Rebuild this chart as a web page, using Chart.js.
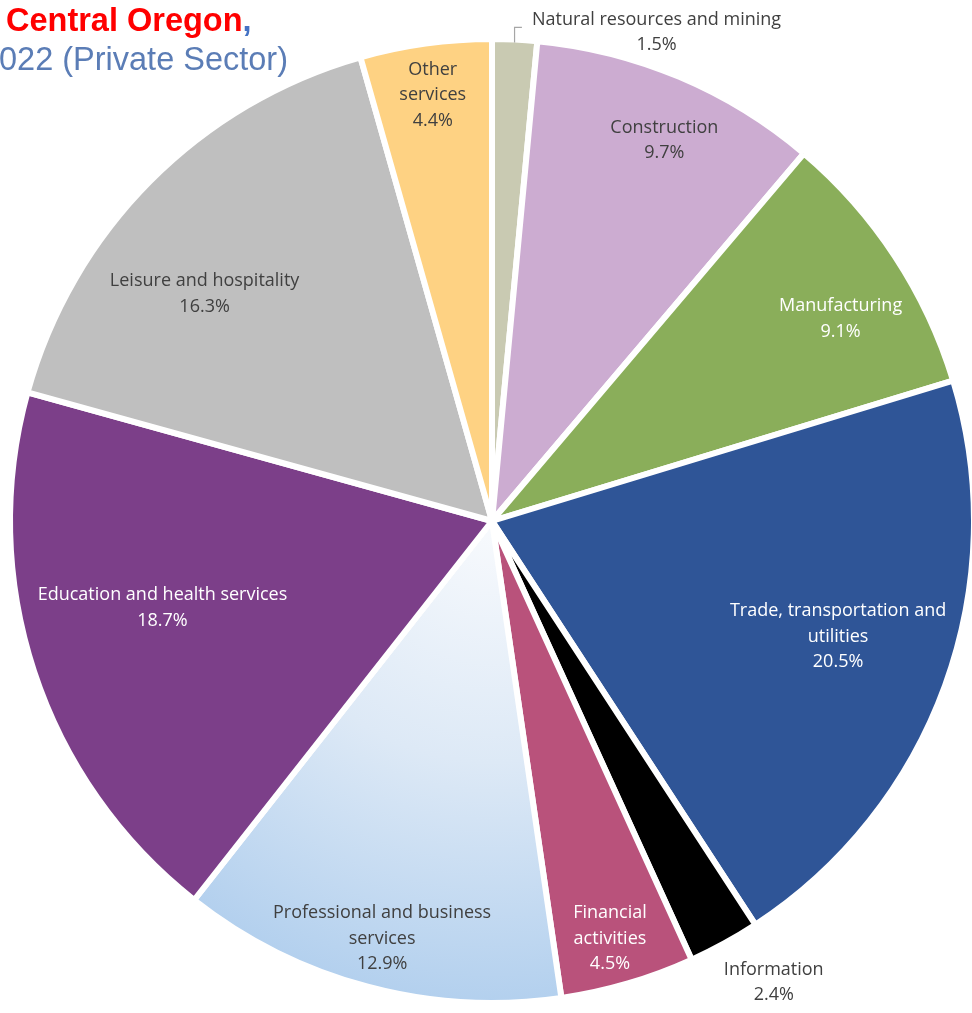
<!DOCTYPE html>
<html>
<head>
<meta charset="utf-8">
<script src="https://cdn.jsdelivr.net/npm/chart.js@4.4.1/dist/chart.umd.min.js"></script>
<style>
  body { margin: 0; background: #fff; }
  #wrap { position: absolute; left: 0; top: 0; width: 972px; height: 1013px; overflow: hidden; }
  .title { position: absolute; font-family: "Liberation Sans", Arial, sans-serif; font-size: 32.5px; white-space: nowrap; z-index: 2; }
  #t1 { left: 6px; top: 2px; color: #ff0000; font-weight: bold; }
  #t1 span { color: #4472c4; }
  #t2 { left: -1px; top: 41px; color: #5b7db6; }
</style>
</head>
<body>
<div id="wrap">
  <div id="t1" class="title">Central Oregon<span>,</span></div>
  <div id="t2" class="title">022 (Private Sector)</div>
  <canvas id="pie"></canvas>
</div>
<script>
const categories = [
  ['Natural resources and mining'],
  ['Construction'],
  ['Manufacturing'],
  ['Trade, transportation and', 'utilities'],
  ['Information'],
  ['Financial', 'activities'],
  ['Professional and business', 'services'],
  ['Education and health services'],
  ['Leisure and hospitality'],
  ['Other', 'services']
];
const shares = [1.5, 9.7, 9.1, 20.5, 2.4, 4.5, 12.9, 18.7, 16.3, 4.4];

const sliceColors = ['#c9cab2', '#ccacd1', '#8aae5a', '#2f5597', '#000000',
                     '#b9527b', 'gradient', '#7c3f89', '#bfbfbf', '#fed283'];
const labelColors = ['#404040', '#404040', '#ffffff', '#ffffff', '#404040',
                     '#ffffff', '#404040', '#ffffff', '#404040', '#404040'];
// label placement: fraction of radius, angle shift in degrees
const labelRadius = [1.07, 0.867, 0.836, 0.757, 1.122, 0.90, 0.896, 0.707, 0.76, 0.892];
const labelShift = [15.9, 1.5, 3.2, -1.5, -2.6, 0.6, -0.2, 3.4, -6.5, 0];

const LINE_H = 25.5;
const FONT = '18px "Open Sans", sans-serif';

function sliceColor(ctx) {
  const c = sliceColors[ctx.dataIndex];
  if (c !== 'gradient') return c;
  const chart = ctx.chart;
  const area = chart.chartArea;
  if (!area) return '#d6e5f5';
  const cx = (area.left + area.right) / 2;
  const cy = (area.top + area.bottom) / 2;
  const g = chart.ctx.createRadialGradient(cx, cy, 0, cx, cy, 482);
  g.addColorStop(0, '#f8fafd');
  g.addColorStop(0.5, '#dde9f6');
  g.addColorStop(1, '#b3d0ee');
  return g;
}

const pieLabels = {
  id: 'pieLabels',
  afterDatasetsDraw(chart) {
    const ctx = chart.ctx;
    const arcs = chart.getDatasetMeta(0).data;
    ctx.save();
    ctx.font = FONT;
    ctx.textAlign = 'center';
    ctx.textBaseline = 'middle';
    arcs.forEach((arc, i) => {
      const p = arc.getProps(['x', 'y', 'startAngle', 'endAngle', 'outerRadius'], true);
      const mid = (p.startAngle + p.endAngle) / 2;
      const a = mid + labelShift[i] * Math.PI / 180;
      const lx = p.x + Math.cos(a) * p.outerRadius * labelRadius[i];
      const ly = p.y + Math.sin(a) * p.outerRadius * labelRadius[i];
      const lines = categories[i].concat([shares[i].toFixed(1) + '%']);
      const top = ly - (lines.length - 1) * LINE_H / 2;
      ctx.fillStyle = labelColors[i];
      lines.forEach((t, k) => ctx.fillText(t, lx, top + k * LINE_H));

      if (i === 0) {
        // leader line for the thin slice
        const ex = p.x + Math.cos(mid) * (p.outerRadius - 3);
        const ey = p.y + Math.sin(mid) * (p.outerRadius - 3);
        const w = ctx.measureText(categories[i][0]).width;
        ctx.strokeStyle = '#a6a6a6';
        ctx.lineWidth = 1.2;
        ctx.beginPath();
        ctx.moveTo(ex, ey);
        ctx.lineTo(ex, top + 8);
        ctx.lineTo(lx - w / 2 - 10, top + 8);
        ctx.stroke();
      }
    });
    ctx.restore();
  }
};

new Chart(document.getElementById('pie'), {
  type: 'pie',
  data: {
    labels: categories.map(c => c.join(' ')),
    datasets: [{
      data: shares,
      backgroundColor: sliceColor,
      borderColor: '#ffffff',
      borderWidth: 6,
      radius: 482,
      clip: false
    }]
  },
  options: {
    responsive: true,
    maintainAspectRatio: false,
    animation: false,
    layout: { padding: { left: 12, top: 29, right: 0, bottom: 0 } },
    plugins: {
      legend: { display: false },
      tooltip: { enabled: false }
    }
  },
  plugins: [pieLabels]
});
</script>
</body>
</html>
